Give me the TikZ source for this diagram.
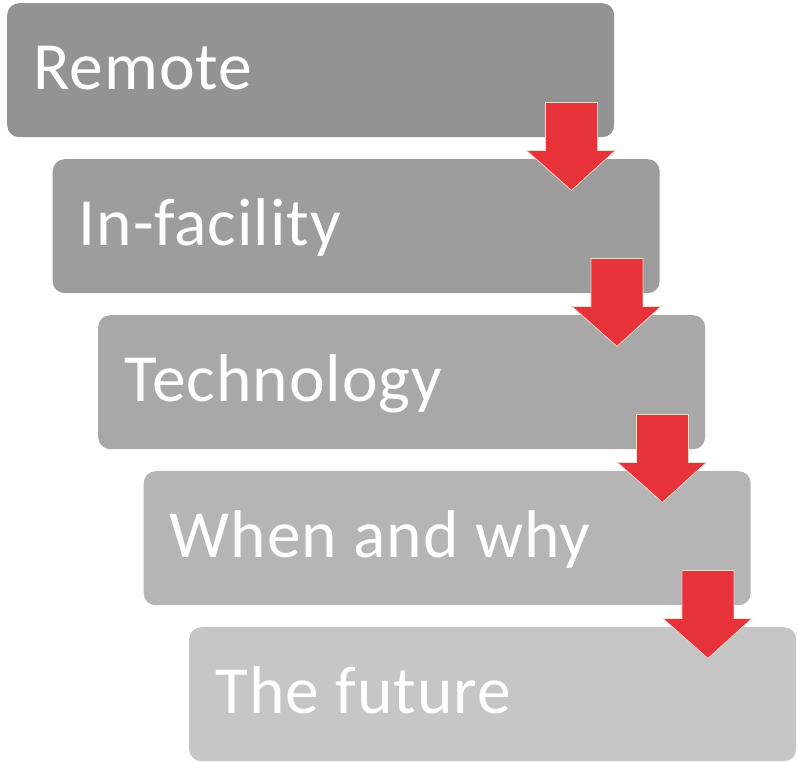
\documentclass[tikz,border=0pt]{standalone}
\usepackage{fontspec}
\setmainfont{Carlito}[LetterSpace=1.5]
\usetikzlibrary{calc}
\definecolor{c1}{HTML}{939393}
\definecolor{c2}{HTML}{9D9D9D}
\definecolor{c3}{HTML}{A8A8A8}
\definecolor{c4}{HTML}{B5B5B5}
\definecolor{c5}{HTML}{C6C6C6}
\definecolor{arrred}{HTML}{E8323A}
\definecolor{arrline}{HTML}{F2D6C8}
\begin{document}
\begin{tikzpicture}[x=1pt,y=-1pt,
  box/.style={rounded corners=12pt, minimum width=607pt, minimum height=134pt, anchor=north west, inner sep=0pt, draw=none},
  lbl/.style={text=white, font=\fontsize{67.5}{72}\selectfont, anchor=base west, inner sep=0pt},
  arr/.style={fill=arrred, draw=arrline, line width=0.8pt, line join=miter}]
\useasboundingbox (0,0) rectangle (798,763);
\node[box, fill=c1] (b1) at (7,3) {};
\node[box, fill=c2] (b2) at (52.5,159) {};
\node[box, fill=c3] (b3) at (98,315) {};
\node[box, fill=c4] (b4) at (143.5,471) {};
\node[box, fill=c5] (b5) at (189,627) {};
\node[lbl] (t1) at ($(b1.north west)+(26,86)$) {Remote};
\node[lbl] (t2) at ($(b2.north west)+(26,86)$) {In-facility};
\node[lbl] (t3) at ($(b3.north west)+(26,86)$) {Technology};
\node[lbl] (t4) at ($(b4.north west)+(26,86)$) {When and why};
\node[lbl] (t5) at ($(b5.north west)+(26,86)$) {The future};
\foreach \i in {1,2,3,4}{
  \draw[arr] ($(b\i.south east)+(-69,-35)$) -- ($(b\i.south east)+(-17,-35)$)
    -- ($(b\i.south east)+(-17,13)$) -- ($(b\i.south east)+(1,13)$)
    -- ($(b\i.south east)+(-43,53)$) -- ($(b\i.south east)+(-88,13)$)
    -- ($(b\i.south east)+(-69,13)$) -- cycle;
}
\end{tikzpicture}
\end{document}
